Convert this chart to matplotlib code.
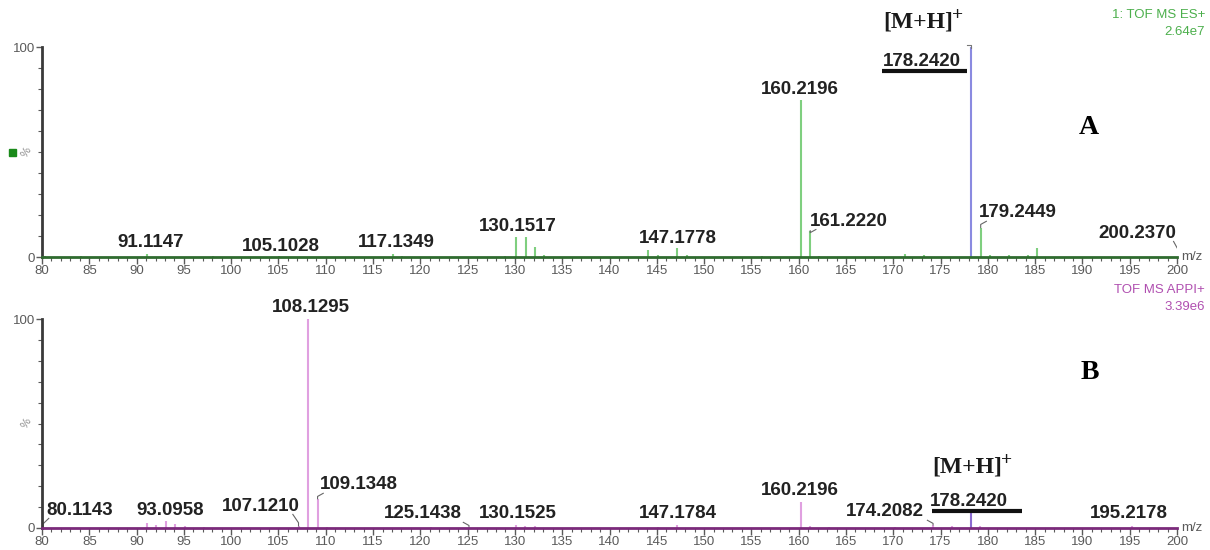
import matplotlib
matplotlib.use("Agg")
import matplotlib.pyplot as plt
from matplotlib.ticker import MultipleLocator

# ---- Spectrum A: TOF MS ES+ (relative intensity, %) ----
mz_a = [80.3, 84.1, 91.1147, 98.1, 105.1028, 117.1349, 118.1, 128.9, 130.1517, 131.15, 132.16,
        133.1, 144.1, 145.1, 147.1778, 148.2, 156.1, 160.2196, 161.2220, 162.2, 171.2, 173.2,
        178.2420, 179.2449, 180.2, 182.2, 184.2, 185.2, 200.2370]
int_a = [0.4, 0.4, 1.2, 0.4, 0.6, 1.6, 0.5, 0.6, 9.5, 9.3, 5.0,
         0.8, 3.5, 1.0, 4.3, 0.8, 0.6, 75.0, 12.5, 0.6, 1.2, 0.8,
         100.0, 14.0, 0.9, 0.8, 0.8, 4.3, 1.0]
main_a = 178.2420

# ---- Spectrum B: TOF MS APPI+ ----
mz_b = [80.1143, 91.1, 92.1, 93.0958, 94.1, 95.1, 97.1, 107.1210, 108.1295, 109.1348, 110.1,
        121.1, 125.1438, 130.1525, 131.1, 132.1, 145.1, 147.1784, 160.2196, 161.2, 163.2,
        170.2, 174.2082, 176.2, 178.2420, 179.2, 195.2178]
int_b = [0.5, 2.5, 1.2, 3.2, 1.8, 1.0, 0.7, 1.0, 100.0, 14.0, 0.6,
         0.5, 0.6, 1.5, 0.8, 0.8, 0.5, 1.2, 12.6, 1.0, 0.6,
         0.5, 1.5, 1.0, 7.5, 0.8, 1.0]
main_b = 178.2420

labels_a = [91.1147, 105.1028, 117.1349, 130.1517, 147.1778, 160.2196, 161.2220,
            178.2420, 179.2449, 200.2370]
labels_b = [80.1143, 93.0958, 107.1210, 108.1295, 109.1348, 125.1438, 130.1525,
            147.1784, 160.2196, 174.2082, 178.2420, 195.2178]

# label text centres (data coords); leader: +1 label right of peak, -1 left, 0 none
layout_a = {91.1147: (91.5, 7.1, 0), 105.1028: (105.3, 4.8, 0),
            117.1349: (117.5, 7.1, 0), 130.1517: (130.3, 14.3, 0),
            147.1778: (147.2, 8.6, 0), 160.2196: (160.15, 80.0, 0),
            161.2220: (165.3, 17.1, 1), 178.2420: (173.05, 93.2, 0),
            179.2449: (183.2, 21.0, 1), 200.2370: (195.8, 11.4, -1)}
layout_b = {80.1143: (84.0, 8.6, 1), 93.0958: (93.5, 8.6, 0),
            107.1210: (103.1, 10.5, -1), 108.1295: (108.4, 105.5, 0),
            109.1348: (113.5, 20.6, 1), 125.1438: (120.3, 6.7, -1),
            130.1525: (130.3, 6.7, 0), 147.1784: (147.2, 6.7, 0),
            160.2196: (160.15, 17.9, 0), 174.2082: (169.1, 7.7, -1),
            178.2420: (178.0, 12.6, 0), 195.2178: (194.9, 6.7, 0)}

fig = plt.figure(figsize=(12.1, 5.5), dpi=100)
plt.rcParams['font.family'] = ['Liberation Sans', 'DejaVu Sans']

x0, x1 = 42 / 1210, 1177 / 1210
ax_a = fig.add_axes([x0, 1 - 257 / 550, x1 - x0, 210 / 550])
ax_b = fig.add_axes([x0, 1 - 528 / 550, x1 - x0, 209 / 550])

TICK_GREY = "#5a5a5a"


def style_axis(ax, base_color):
    ax.set_xlim(80, 200)
    ax.set_ylim(0, 100)
    for s in ("top", "right"):
        ax.spines[s].set_visible(False)
    ax.spines["left"].set_color("#3a3a3a")
    ax.spines["left"].set_linewidth(2)
    ax.spines["bottom"].set_color(base_color)
    ax.spines["bottom"].set_linewidth(2)
    ax.xaxis.set_major_locator(MultipleLocator(5))
    ax.xaxis.set_minor_locator(MultipleLocator(1))
    ax.set_yticks([0, 100])
    ax.yaxis.set_minor_locator(MultipleLocator(10))
    ax.tick_params(axis="x", which="major", length=5, width=1, color=TICK_GREY,
                   labelsize=9.5, labelcolor=TICK_GREY, pad=1)
    ax.tick_params(axis="x", which="minor", length=3, width=0.8, color=TICK_GREY)
    ax.tick_params(axis="y", which="major", length=4, width=1, color=TICK_GREY,
                   labelsize=9.5, labelcolor=TICK_GREY, pad=1)
    ax.tick_params(axis="y", which="minor", length=3, width=0.8, color=TICK_GREY)
    ax.text(1.004, 0.0, "m/z", transform=ax.transAxes, fontsize=9.5, color=TICK_GREY,
            ha="left", va="center")
    ax.text(-0.008, 0.5, "%", transform=ax.transAxes, fontsize=8, color="#888888",
            ha="right", va="center", rotation=60)


def draw_spectrum(ax, mz, inten, main, color, main_color, labels, layout):
    for m, v in zip(mz, inten):
        c = main_color if m == main else color
        ax.vlines(m, 0, v, color=c, lw=1.5)
    for m in labels:
        v = inten[mz.index(m)]
        tx, ty, side = layout[m]
        ax.text(tx, ty, f"{m:.4f}", fontsize=13.5, fontweight="bold", color="#222222",
                ha="center", va="center")
        if side:
            sx = m + 0.6 * side
            ax.plot([sx, m, m], [ty - 4.0, min(ty - 4.0, v + 3.0) - 1.5, v],
                    color="#666666", lw=0.8)


def ion_label(ax, x, y):
    """Bold serif [M+H] with a raised plus sign."""
    serif = ["Liberation Serif", "DejaVu Serif"]
    t = ax.text(x, y, "[M+H]", fontsize=17, fontweight="bold", family=serif,
                ha="left", va="center", color="#1a1a1a", clip_on=False)
    ax.annotate("+", xy=(1, 0.82), xycoords=t, xytext=(-0.5, 0), textcoords="offset points",
                fontsize=14, fontweight="bold", family=serif, color="#1a1a1a",
                ha="left", va="center", annotation_clip=False)


style_axis(ax_a, "#2f6b2f")
style_axis(ax_b, "#7b2a7b")
draw_spectrum(ax_a, mz_a, int_a, main_a, "#7fcf7f", "#8a8ae0", labels_a, layout_a)
draw_spectrum(ax_b, mz_b, int_b, main_b, "#e0a0e0", "#8a6ad0", labels_b, layout_b)

# bracket leader for the base peak of A
ax_a.plot([177.85, 178.24, 178.24], [101.0, 101.0, 99.5], color="#777777", lw=0.8,
          clip_on=False)

# underline marking the protonated molecule
ax_a.plot([168.8, 177.8], [88.6, 88.6], color="#111111", lw=3, solid_capstyle="butt")
ax_b.plot([174.1, 183.6], [8.1, 8.1], color="#111111", lw=3, solid_capstyle="butt")

ion_label(ax_a, 168.9, 112.0)
ion_label(ax_b, 174.1, 29.2)

serif = ["Liberation Serif", "DejaVu Serif"]
ax_a.text(0.922, 0.619, "A", transform=ax_a.transAxes, fontsize=20, fontweight="bold",
          family=serif, ha="center", va="center")
ax_b.text(0.923, 0.742, "B", transform=ax_b.transAxes, fontsize=20, fontweight="bold",
          family=serif, ha="center", va="center")

# acquisition info
fig.text(1205 / 1210, 1 - 15 / 550, "1: TOF MS ES+", fontsize=9.5, color="#4caf4c",
         ha="right", va="center")
fig.text(1205 / 1210, 1 - 32 / 550, "2.64e7", fontsize=9.5, color="#4caf4c",
         ha="right", va="center")
fig.text(1205 / 1210, 1 - 290 / 550, "TOF MS APPI+", fontsize=9.5, color="#b04fb0",
         ha="right", va="center")
fig.text(1205 / 1210, 1 - 307 / 550, "3.39e6", fontsize=9.5, color="#b04fb0",
         ha="right", va="center")

# channel marker
fig.patches.append(plt.Rectangle((9 / 1210, 1 - 156 / 550), 7 / 1210, 7 / 550,
                                 transform=fig.transFigure, color="#1a8a1a"))

fig.savefig("out.png", dpi=100)
